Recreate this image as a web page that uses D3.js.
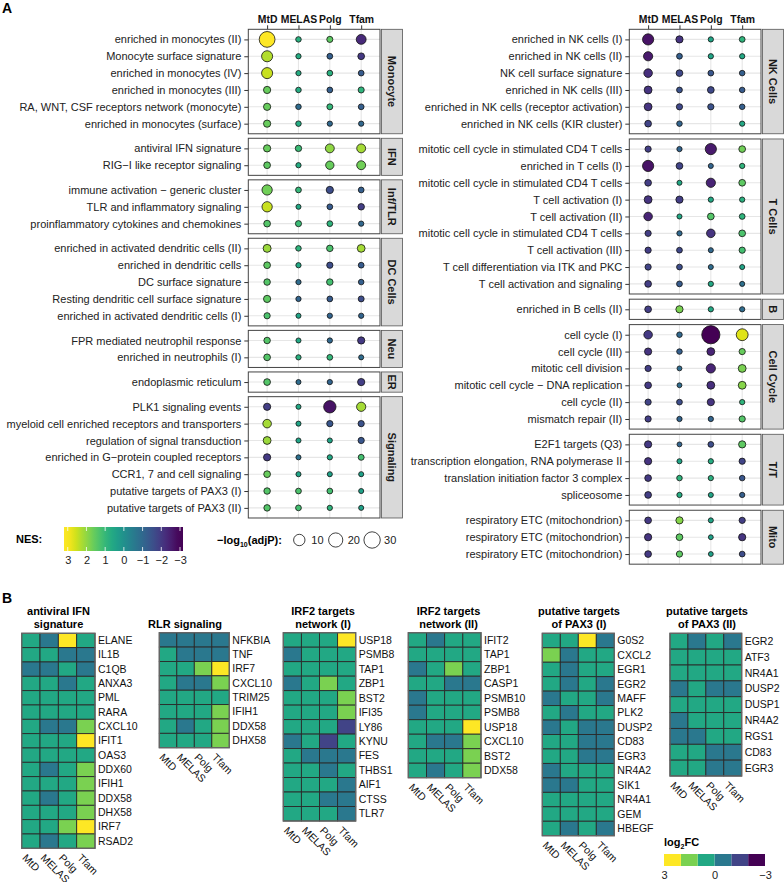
<!DOCTYPE html>
<html>
<head>
<meta charset="utf-8">
<script src="https://cdn.jsdelivr.net/npm/d3@7"></script>
<style>
  body { margin: 0; background: #fff; }
  svg { font-family: "Liberation Sans", Arial, sans-serif; }
</style>
</head>
<body>
<div id="chart"></div>
<script>
const groups = ["MtD", "MELAS", "Polg", "Tfam"]

// ---- panel A, left column: NES and -log10(adjP) per term x group ----
const monoTerms = ["enriched in monocytes (II)", "Monocyte surface signature", "enriched in monocytes (IV)",
    "enriched in monocytes (III)", "RA, WNT, CSF receptors network (monocyte)", "enriched in monocytes (surface)"]
const monoNES = [[3.0, 0.8, 1.5, -2.3], [2.3, 0.7, -1.2, -2.0], [2.5, 0.7, 0.8, -1.3],
    [1.6, 0.7, -1.2, 0.9], [1.6, -0.9, 1.0, -1.2], [1.6, 0.7, -1.0, -1.0]]
const monoP = [[27, 0.2, 0.5, 6], [9, 0.1, 0.3, 1], [9, 0.1, 0.3, 0.3],
    [1.5, 0.2, 0.3, 0.5], [1.5, 0.2, 0.4, 0.3], [1.5, 0.2, 0.1, 0.1]]

const ifnTerms = ["antiviral IFN signature", "RIG−I like receptor signaling"]
const ifnNES = [[1.6, 1.1, 2.0, 2.2], [1.5, 0.7, 1.6, 1.7]]
const ifnP = [[1.5, 0.7, 4, 4], [1, 0.1, 3, 4]]

const tlrTerms = ["immune activation − generic cluster", "TLR and inflammatory signaling", "proinflammatory cytokines and chemokines"]
const tlrNES = [[1.7, 1.0, -1.6, -1.2], [2.5, 0.6, -1.3, -1.9], [1.4, 1.1, 0.9, -1.0]]
const tlrP = [[7, 0.3, 1.5, 0.3], [7, 0.05, 0.3, 0.8], [1, 0.5, 0.3, 0.1]]

const dcTerms = ["enriched in activated dendritic cells (II)", "enriched in dendritic cells", "DC surface signature",
    "Resting dendritic cell surface signature", "enriched in activated dendritic cells (I)"]
const dcNES = [[2.1, 0.9, 1.3, 2.2], [1.5, 0.6, -1.6, -1.3], [1.4, -0.9, 1.2, -1.2], [1.5, -1.1, -1.3, -1.6], [1.3, 0.5, -1.1, -1.1]]
const dcP = [[2.5, 0.2, 0.8, 2.2], [1, 0.1, 0.6, 0.3], [0.8, 0.1, 0.8, 0.2], [1.5, 0.1, 0.3, 0.4], [0.6, 0.05, 0.1, 0.1]]

const neuTerms = ["FPR mediated neutrophil response", "enriched in neutrophils (I)"]
const neuNES = [[1.4, 0.6, -1.0, -2.0], [1.4, 0.8, 1.0, -0.9]]
const neuP = [[0.8, 0.05, 0.1, 1.5], [1, 0.1, 0.3, 0.05]]

const erTerms = ["endoplasmic reticulum"]
const erNES = [[1.4, -0.9, -1.1, -1.9]]
const erP = [[1, 0.05, 0.1, 1.5]]

const sigTerms = ["PLK1 signaling events", "myeloid cell enriched receptors and transporters", "regulation of signal transduction",
    "enriched in G−protein coupled receptors", "CCR1, 7 and cell signaling", "putative targets of PAX3 (I)", "putative targets of PAX3 (II)"]
const sigNES = [[-1.9, 0.6, -2.7, 2.2], [2.2, 0.5, -1.4, -1.5], [2.1, 0.5, 0.5, -1.4], [-2.0, -0.8, 0.6, 1.2],
    [1.6, 0.5, 0.4, 0.4], [1.4, 1.3, 1.2, 0.4], [1.4, 1.2, 0.9, 0.4]]
const sigP = [[1.5, 0.05, 13, 4.6], [3.4, 0.05, 0.6, 0.6], [2.3, 0.05, 0.05, 0.6], [1.5, 0.05, 0.1, 0.4],
    [1, 0.05, 0.05, 0.05], [0.8, 0.3, 0.3, 0.05], [0.8, 0.3, 0.1, 0.05]]

// ---- panel A, right column ----
const nkTerms = ["enriched in NK cells (I)", "enriched in NK cells (II)", "NK cell surface signature",
    "enriched in NK cells (III)", "enriched in NK cells (receptor activation)", "enriched in NK cells (KIR cluster)"]
const nkNES = [[-2.7, -2.1, 0.5, 0.9], [-2.6, -1.2, 0.5, 0.6], [-2.2, -1.7, -1.4, -1.2],
    [-2.1, -1.5, -1.7, -1.3], [-2.1, -1.7, -1.5, -1.2], [-1.8, -1.1, null, 0.6]]
const nkP = [[9.4, 1.5, 0.1, 0.3], [4.6, 0.3, 0.1, 0.1], [3.4, 1, 0.3, 0.2],
    [2.3, 0.3, 1, 0.2], [2.3, 0.6, 0.6, 0.2], [1, 0.2, null, 0.1]]

const tcTerms = ["mitotic cell cycle in stimulated CD4 T cells", "enriched in T cells (I)", "mitotic cell cycle in stimulated CD4 T cells",
    "T cell activation (I)", "T cell activation (II)", "mitotic cell cycle in stimulated CD4 T cells",
    "T cell activation (III)", "T cell differentiation via ITK and PKC", "T cell activation and signaling"]
const tcNES = [[-1.9, -1.1, -2.6, 1.7], [-2.7, -1.8, -1.1, 0.9], [-1.9, 0.6, -2.4, 1.5], [-2.1, -1.9, 0.6, 0.8],
    [-2.4, 0.6, 1.4, 0.9], [-1.9, -1.0, -2.1, 1.3], [-1.9, -1.7, -1.0, 1.2], [-1.8, -1.6, -0.9, 0.5], [-1.9, -1.3, 0.6, -0.8]]
const tcP = [[0.6, 0.1, 9.4, 1], [9.4, 1, 0.05, 0.1], [1, 0.05, 4.6, 1], [2.3, 1.5, 0.1, 0.1],
    [3.4, 0.05, 1, 0.3], [0.6, 0.1, 3.4, 1], [0.6, 0.3, 0.05, 0.6], [0.6, 0.3, 0.05, 0.05], [1, 0.3, 0.1, 0.05]]

const bTerms = ["enriched in B cells (II)"]
const bNES = [[-1.9, 1.8, 0.6, -0.9]]
const bP = [[1, 1.5, 0.1, 0.1]]

const ccTerms = ["cell cycle (I)", "cell cycle (III)", "mitotic cell division", "mitotic cell cycle − DNA replication",
    "cell cycle (II)", "mismatch repair (II)"]
const ccNES = [[-2.0, -1.0, -3.0, 2.7], [-2.1, -1.2, -2.4, 1.6], [-1.9, -0.9, -2.4, 1.8],
    [-2.0, -0.9, -2.2, 1.9], [-1.8, -1.6, -2.1, 0.9], [-1.9, -1.1, -1.1, 1.4]]
const ccP = [[3.4, 0.2, 40, 11.4], [1.5, 0.2, 2.3, 0.6], [0.6, 0.02, 4.6, 2.3],
    [1, 0.02, 2.3, 2.3], [0.6, 0.3, 1.5, 0.1], [0.6, 0.1, 0.1, 0.6]]

const ttTerms = ["E2F1 targets (Q3)", "transcription elongation, RNA polymerase II", "translation initiation factor 3 complex", "spliceosome"]
const ttNES = [[-2.0, -1.1, -1.6, 1.5], [-2.1, 0.5, 0.7, -1.8], [-2.0, 0.9, 0.8, -1.4], [-1.9, 0.7, 0.5, -1.2]]
const ttP = [[1.5, 0.02, 0.3, 1.5], [1.5, 0.05, 0.1, 0.6], [1, 0.2, 0.1, 0.2], [1, 0.1, 0.05, 0.1]]

const mitoTerms = ["respiratory ETC (mitochondrion)", "respiratory ETC (mitochondrion)", "respiratory ETC (mitochondrion)"]
const mitoNES = [[-2.0, 1.9, 0.5, -1.9], [-2.1, 1.5, 0.4, -2.1], [-2.0, 1.5, 0.4, -1.6]]
const mitoP = [[1, 1.5, 0.05, 0.6], [1.5, 1, 0.02, 1.5], [1, 0.6, 0.02, 0.3]]

// ---- panel B heatmaps: log2FC per gene x group ----
const ifnGenes = ["ELANE", "IL1B", "C1QB", "ANXA3", "PML", "RARA", "CXCL10", "IFIT1", "OAS3", "DDX60", "IFIH1", "DDX58", "DHX58", "IRF7", "RSAD2"]
const ifnFC = [[0.5, -0.5, 2.5, 0.5], [0.4, 0.5, -0.6, -0.5], [-0.5, -0.6, 0.4, -0.5], [0.5, 0.4, -0.7, 0.5],
    [0.4, 0.5, 0.5, 0.4], [0.5, 0.4, 0.4, 0.5], [0.4, -0.6, -0.7, 1.4], [0.5, 0.4, 0.5, 2.6], [0.4, 0.5, 0.4, 0.6],
    [0.5, -0.6, 0.4, 1.3], [0.4, 0.5, 0.5, 1.4], [0.5, -0.6, 0.4, 1.3], [0.4, 0.5, 0.5, 1.4], [0.5, 0.4, 1.4, 2.5], [0.4, -0.6, 0.5, 1.3]]

const rlrGenes = ["NFKBIA", "TNF", "IRF7", "CXCL10", "TRIM25", "IFIH1", "DDX58", "DHX58"]
const rlrFC = [[-0.4, -0.6, -0.5, -0.7], [0.3, -0.5, -0.6, -0.4], [0.4, 0.5, 1.3, 2.4], [0.3, -0.6, -0.8, 1.2],
    [0.4, 0.5, 0.4, 0.6], [0.5, 0.4, 0.6, 1.3], [0.4, -0.5, 0.5, 1.4], [0.3, 0.4, 0.5, 1.2]]

const irf2aGenes = ["USP18", "PSMB8", "TAP1", "ZBP1", "BST2", "IFI35", "LY86", "KYNU", "FES", "THBS1", "AIF1", "CTSS", "TLR7"]
const irf2aFC = [[0.4, 0.5, 0.6, 2.4], [-0.5, 0.4, 0.5, 0.6], [0.5, 0.5, 0.4, 0.6], [-0.6, 0.4, 1.3, 0.5],
    [0.4, 0.5, 0.6, 1.4], [0.4, 0.4, 0.5, 1.3], [0.3, 0.4, 0.5, -1.4], [-0.4, 0.5, -1.6, 0.4], [0.3, -0.5, -0.6, -0.7],
    [0.4, 0.3, -0.5, 0.4], [0.4, 0.5, 0.3, -0.6], [0.3, 0.4, -0.7, -0.5], [0.4, 0.3, 0.5, -0.6]]

const irf2bGenes = ["IFIT2", "TAP1", "ZBP1", "CASP1", "PSMB10", "PSMB8", "USP18", "CXCL10", "BST2", "DDX58"]
const irf2bFC = [[0.4, -0.6, 0.5, 0.4], [0.5, 0.5, 0.4, 0.6], [-0.5, 0.4, 1.3, 0.5], [0.4, 0.5, -0.5, -0.6],
    [-0.6, 0.4, 0.5, 0.5], [-0.5, 0.4, 0.5, 0.6], [0.4, 0.5, 0.6, 2.4], [0.3, -0.6, -0.8, 1.2], [0.4, 0.5, 0.6, 1.4], [0.4, -0.5, 0.5, 1.4]]

const pax3aGenes = ["G0S2", "CXCL2", "EGR1", "EGR2", "MAFF", "PLK2", "DUSP2", "CD83", "EGR3", "NR4A2", "SIK1", "NR4A1", "GEM", "HBEGF"]
const pax3aFC = [[0.4, 0.5, 2.3, -0.5], [1.2, -0.6, 0.5, 0.4], [0.4, -0.7, 0.5, 0.3], [0.5, -0.6, 0.4, -0.7],
    [-0.6, 0.4, 0.5, -0.8], [0.4, -0.6, 0.5, 0.3], [-0.7, 0.4, -0.6, -0.9], [0.4, 0.3, -0.8, -0.9], [0.5, 0.4, -0.7, -0.8],
    [-0.6, 0.4, 0.5, 0.4], [-0.7, -0.6, 0.4, 0.5], [0.3, 0.4, 0.5, 0.3], [0.4, 0.3, 0.5, 0.4], [0.5, -0.6, 0.4, -0.7]]

const pax3bGenes = ["EGR2", "ATF3", "NR4A1", "DUSP2", "DUSP1", "NR4A2", "RGS1", "CD83", "EGR3"]
const pax3bFC = [[0.4, -0.6, 0.5, -0.7], [0.5, 0.4, 0.5, 0.3], [0.4, 0.5, 0.4, 0.5], [-0.6, 0.4, -0.7, -0.8],
    [0.4, 0.5, 0.3, 0.4], [-0.7, 0.4, 0.5, 0.3], [-0.6, -0.7, 0.4, 0.5], [0.4, 0.3, -0.6, -0.8], [0.5, 0.4, -0.7, -0.9]]

const nesTicks = [3, 2, 1, 0, -1, -2, -3]
const sizeTicks = [10, 20, 30]
const fcTicks = [3, 0, -3]

// ---------------------------------------------------------------
const width = 784, height = 882
const svg = d3.select("#chart").append("svg")
    .attr("width", width)
    .attr("height", height)

const nesColor = v => d3.interpolateViridis(Math.max(0, Math.min(1, (v + 3) / 6)))
const size = d3.scaleSqrt().domain([0, 40]).range([2.3, 9.1])
const fcColor = d3.scaleQuantize().domain([-3, 3])
    .range(d3.range(6).map(i => d3.interpolateViridis(i / 5)))

const leftFacets = [
    { name: "Monocyte", terms: monoTerms, nes: monoNES, p: monoP },
    { name: "IFN", terms: ifnTerms, nes: ifnNES, p: ifnP },
    { name: "Inf/TLR", terms: tlrTerms, nes: tlrNES, p: tlrP },
    { name: "DC Cells", terms: dcTerms, nes: dcNES, p: dcP },
    { name: "Neu", terms: neuTerms, nes: neuNES, p: neuP },
    { name: "ER", terms: erTerms, nes: erNES, p: erP },
    { name: "Signaling", terms: sigTerms, nes: sigNES, p: sigP }
]
const rightFacets = [
    { name: "NK Cells", terms: nkTerms, nes: nkNES, p: nkP },
    { name: "T Cells", terms: tcTerms, nes: tcNES, p: tcP },
    { name: "B", terms: bTerms, nes: bNES, p: bP },
    { name: "Cell Cycle", terms: ccTerms, nes: ccNES, p: ccP },
    { name: "T/T", terms: ttTerms, nes: ttNES, p: ttP },
    { name: "Mito", terms: mitoTerms, nes: mitoNES, p: mitoP }
]

function dotColumn(facets, o) {
    const x = d3.scalePoint().domain(groups).range([o.x0, o.x1]).padding(0.6)
    let top = o.top

    // column headers
    svg.append("g")
        .attr("transform", `translate(0,${top})`)
        .call(d3.axisTop(x).tickSize(4).tickPadding(2))
        .call(g => g.select(".domain").remove())
        .call(g => g.selectAll("line").attr("stroke", "#333"))
        .call(g => g.selectAll("text").attr("font-size", 10.4).attr("font-weight", "bold")
            .attr("fill", "#111").attr("font-family", null))

    facets.forEach(f => {
        const n = f.terms.length
        const h = (n + 0.2) * o.unit
        const y = d3.scalePoint().domain(d3.range(n)).range([top, top + h]).padding(0.6)
        const g = svg.append("g")

        g.append("rect")
            .attr("x", o.x0).attr("y", top)
            .attr("width", o.x1 - o.x0).attr("height", h)
            .attr("fill", "#fff")

        // grid
        g.selectAll("line.gx").data(groups).join("line")
            .attr("class", "gx")
            .attr("x1", d => x(d)).attr("x2", d => x(d))
            .attr("y1", top).attr("y2", top + h)
            .attr("stroke", "#e6e6e6").attr("stroke-width", 1.1)
        g.selectAll("line.gy").data(d3.range(n)).join("line")
            .attr("class", "gy")
            .attr("x1", o.x0).attr("x2", o.x1)
            .attr("y1", d => y(d)).attr("y2", d => y(d))
            .attr("stroke", "#e6e6e6").attr("stroke-width", 1.1)

        // points
        const pts = []
        f.terms.forEach((t, i) => groups.forEach((gr, j) => {
            if (f.nes[i][j] != null) pts.push({ i: i, g: gr, nes: f.nes[i][j], p: f.p[i][j] })
        }))
        g.selectAll("circle").data(pts).join("circle")
            .attr("cx", d => x(d.g))
            .attr("cy", d => y(d.i))
            .attr("r", d => size(d.p))
            .attr("fill", d => nesColor(d.nes))
            .attr("stroke", "#111")
            .attr("stroke-width", 0.8)

        g.append("rect")
            .attr("x", o.x0).attr("y", top)
            .attr("width", o.x1 - o.x0).attr("height", h)
            .attr("fill", "none").attr("stroke", "#444").attr("stroke-width", 1)

        // term labels
        g.append("g")
            .attr("transform", `translate(${o.x0},0)`)
            .call(d3.axisLeft(y).tickSize(4).tickPadding(3).tickSizeOuter(0).tickFormat(i => f.terms[i]))
            .call(a => a.select(".domain").remove())
            .call(a => a.selectAll("line").attr("stroke", "#333"))
            .call(a => a.selectAll("text").attr("font-size", 11).attr("fill", "#222").attr("font-family", null))

        // strip
        g.append("rect")
            .attr("x", o.x1 + 1.5).attr("y", top)
            .attr("width", o.stripW).attr("height", h)
            .attr("fill", "#d9d9d9").attr("stroke", "#555").attr("stroke-width", 0.8)
        g.append("text")
            .attr("transform", `translate(${o.x1 + 1.5 + o.stripW / 2},${top + h / 2}) rotate(90)`)
            .attr("text-anchor", "middle")
            .attr("dy", "0.35em")
            .attr("font-size", 11)
            .attr("font-weight", "bold")
            .attr("fill", "#1a1a1a")
            .text(f.name)

        top += h + o.gap
    })
}

dotColumn(leftFacets, { x0: 248.3, x1: 380, top: 29.3, unit: 16.85, gap: 4.5, stripW: 21 })
dotColumn(rightFacets, { x0: 629.3, x1: 761, top: 29.3, unit: 16.85, gap: 5.2, stripW: 21 })

// panel letters
svg.append("text").attr("x", 2).attr("y", 13).attr("font-size", 14).attr("font-weight", "bold").text("A")
svg.append("text").attr("x", 2).attr("y", 603).attr("font-size", 14).attr("font-weight", "bold").text("B")

// NES colour bar
const nesX = d3.scaleLinear().domain([3.2, -3.16]).range([64, 183])
const grad = svg.append("defs").append("linearGradient").attr("id", "nesGrad")
d3.range(0, 1.0001, 0.05).forEach(t => {
    grad.append("stop").attr("offset", t).attr("stop-color", nesColor(nesX.invert(64 + t * 119)))
})
svg.append("text").attr("x", 16).attr("y", 543).attr("font-size", 11).attr("font-weight", "bold").text("NES:")
svg.append("rect").attr("x", 64).attr("y", 527).attr("width", 119).attr("height", 24).attr("fill", "url(#nesGrad)")
svg.append("g")
    .attr("transform", "translate(0,551)")
    .call(d3.axisBottom(nesX).tickValues(nesTicks).tickSize(0).tickPadding(5).tickFormat(d => d < 0 ? "−" + (-d) : d))
    .call(g => g.select(".domain").remove())
    .call(g => g.selectAll("text").attr("font-size", 11).attr("fill", "#222").attr("font-family", null))
svg.append("g").selectAll("line").data(nesTicks.flatMap(v => [[v, 527], [v, 547]])).join("line")
    .attr("x1", d => nesX(d[0])).attr("x2", d => nesX(d[0]))
    .attr("y1", d => d[1]).attr("y2", d => d[1] + 4)
    .attr("stroke", "#fff").attr("stroke-width", 0.8)

// size legend
const sizeTitle = svg.append("text").attr("x", 217).attr("y", 544).attr("font-size", 11).attr("font-weight", "bold")
sizeTitle.append("tspan").text("−log")
sizeTitle.append("tspan").attr("font-size", 7).attr("dy", 3).text("10")
sizeTitle.append("tspan").attr("dy", -3).text("(adjP):")
const sizeKey = svg.append("g").selectAll("g").data(sizeTicks).join("g")
    .attr("transform", (d, i) => `translate(${299.3 + i * 36.4},540)`)
sizeKey.append("circle").attr("r", d => size(d)).attr("fill", "#fff").attr("stroke", "#111").attr("stroke-width", 0.8)
sizeKey.append("text").attr("x", 12).attr("dy", "0.35em").attr("font-size", 11).attr("fill", "#222").text(d => d)

// ---- panel B heatmaps ----
const heatmaps = [
    { title: ["antiviral IFN", "signature"], genes: ifnGenes, fc: ifnFC, left: 21.7, right: 95, top: 633.3, bottom: 848.3, cx: 58.5 },
    { title: ["RLR signaling"], genes: rlrGenes, fc: rlrFC, left: 159.3, right: 229.3, top: 632.7, bottom: 747.7, cx: 185 },
    { title: ["IRF2 targets", "network (I)"], genes: irf2aGenes, fc: irf2aFC, left: 283.3, right: 355.7, top: 632.7, bottom: 821, cx: 323 },
    { title: ["IRF2 targets", "network (II)"], genes: irf2bGenes, fc: irf2bFC, left: 408.3, right: 481, top: 632.7, bottom: 777.7, cx: 448.5 },
    { title: ["putative targets", "of PAX3 (I)"], genes: pax3aGenes, fc: pax3aFC, left: 542.3, right: 614.3, top: 633.3, bottom: 835.7, cx: 579 },
    { title: ["putative targets", "of PAX3 (II)"], genes: pax3bGenes, fc: pax3bFC, left: 670, right: 741.7, top: 633.3, bottom: 776, cx: 707 }
]

heatmaps.forEach(hm => {
    const x = d3.scaleBand().domain(groups).range([hm.left, hm.right])
    const y = d3.scaleBand().domain(d3.range(hm.genes.length)).range([hm.top, hm.bottom])
    const g = svg.append("g")

    const cells = hm.fc.flatMap((row, i) => row.map((v, j) => ({ i: i, g: groups[j], v: v })))
    g.selectAll("rect").data(cells).join("rect")
        .attr("x", d => x(d.g)).attr("y", d => y(d.i))
        .attr("width", x.bandwidth()).attr("height", y.bandwidth())
        .attr("fill", d => fcColor(d.v))
        .attr("stroke", "#2a2a2a").attr("stroke-width", 0.9)
    g.append("rect")
        .attr("x", hm.left).attr("y", hm.top)
        .attr("width", hm.right - hm.left).attr("height", hm.bottom - hm.top)
        .attr("fill", "none").attr("stroke", "#666").attr("stroke-width", 1.3)

    g.selectAll("text.gene").data(hm.genes).join("text")
        .attr("class", "gene")
        .attr("x", hm.right + 3)
        .attr("y", (d, i) => y(i) + y.bandwidth() / 2)
        .attr("dy", "0.35em")
        .attr("font-size", 10.5).attr("fill", "#111")
        .text(d => d)

    g.selectAll("text.grp").data(groups).join("text")
        .attr("class", "grp")
        .attr("transform", d => `translate(${x(d) + x.bandwidth() / 2 - 4},${hm.bottom + 5}) rotate(45)`)
        .attr("dy", "0.7em")
        .attr("font-size", 10.5).attr("fill", "#111")
        .text(d => d)

    const nT = hm.title.length
    g.selectAll("text.ttl").data(hm.title).join("text")
        .attr("class", "ttl")
        .attr("x", hm.cx)
        .attr("y", (d, i) => 628 - (nT - 1 - i) * 13.4)
        .attr("text-anchor", "middle")
        .attr("font-size", 11).attr("font-weight", "bold")
        .text(d => d)
})

// log2FC legend
const fcX = d3.scaleLinear().domain([3, -3]).range([664, 765])
const fcTitle = svg.append("text").attr("x", 664).attr("y", 846).attr("font-size", 11).attr("font-weight", "bold")
fcTitle.append("tspan").text("log")
fcTitle.append("tspan").attr("font-size", 7).attr("dy", 3).text("2")
fcTitle.append("tspan").attr("dy", -3).text("FC")
svg.append("g").selectAll("rect").data(fcColor.range()).join("rect")
    .attr("x", d => fcX(fcColor.invertExtent(d)[1]))
    .attr("y", 854)
    .attr("width", d => fcX(fcColor.invertExtent(d)[0]) - fcX(fcColor.invertExtent(d)[1]))
    .attr("height", 12)
    .attr("fill", d => d)
svg.append("g")
    .attr("transform", "translate(0,866)")
    .call(d3.axisBottom(fcX).tickValues(fcTicks).tickSize(0).tickPadding(5).tickFormat(d3.format("d")))
    .call(g => g.select(".domain").remove())
    .call(g => g.selectAll("text").attr("font-size", 11).attr("fill", "#222").attr("font-family", null))
</script>
</body>
</html>
